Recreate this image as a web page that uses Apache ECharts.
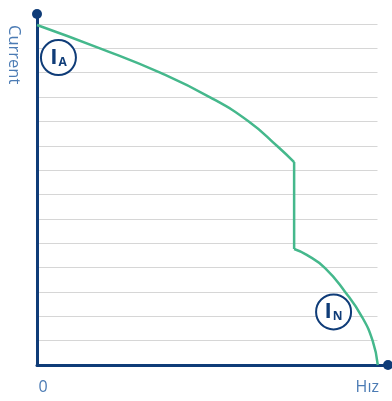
<!DOCTYPE html>
<html><head><meta charset="utf-8">
<script src="https://cdn.jsdelivr.net/npm/echarts@6/dist/echarts.min.js"></script>
<style>html,body{margin:0;padding:0;background:#fff}#c{width:392px;height:401px}</style>
</head><body><div id="c"></div>
<script>
// Upper part of the curve (speed, current)
const upperX = [0, 18.5, 36.2, 50.9, 62.35, 70.6, 75.6];
const upperY = [13.96, 13.0, 12.0, 10.99, 9.99, 8.99, 8.33];
// Vertical drop
const dropX = [75.6, 75.6];
const dropY = [8.33, 4.76];
// Lower part of the curve
const lowerX = [75.6, 79.3, 84.7, 90.6, 95.5, 98.7, 100.2];
const lowerY = [4.76, 4.52, 3.98, 3.0, 1.99, 0.99, 0];
// Circle annotations
const annoSub = ['A', 'N'];
const annoX = [6.3, 87.2];
const annoY = [12.62, 2.18];
// Axis text
const xTickValues = [1.8, 97.1];
const xTickLabels = ['0', 'Hız'];
const yName = 'Current';

const navy = '#0f3c78';
const green = '#45b88c';
const txt = '#4b7bb4';

function pairs(xs, ys) { return xs.map((x, i) => [x, ys[i]]); }

const chart = echarts.init(document.getElementById('c'), null, {renderer: 'canvas'});
chart.setOption({
  animation: false,
  grid: [
    {left: 37, right: 14.5, top: 24, bottom: 36},
    {left: 37, right: 4, top: 14, bottom: 36}
  ],
  xAxis: [
    {gridIndex: 0, type: 'value', min: 0, max: 100, show: false},
    {gridIndex: 1, type: 'value', min: 0, max: 103.2,
     axisLine: {show: true, lineStyle: {color: navy, width: 3}, symbol: ['none', 'circle'], symbolSize: [10, 10]},
     axisTick: {show: false}, splitLine: {show: false},
     axisLabel: {show: true, customValues: xTickValues, margin: 14,
       formatter: function (v) { const i = xTickValues.indexOf(v); return i >= 0 ? xTickLabels[i] : ''; },
       color: txt, fontSize: 16, fontFamily: 'Open Sans'}
    }
  ],
  yAxis: [
    {gridIndex: 0, type: 'value', min: 0, max: 14, interval: 1,
     axisLine: {show: false}, axisTick: {show: false}, axisLabel: {show: false},
     splitLine: {show: true, lineStyle: {color: '#d6d6d6', width: 1}}},
    {gridIndex: 1, type: 'value', min: 0, max: 14.41,
     axisLine: {show: true, onZero: false, lineStyle: {color: navy, width: 3}, symbol: ['none', 'circle'], symbolSize: [10, 10]},
     axisTick: {show: false}, axisLabel: {show: false}, splitLine: {show: false}}
  ],
  graphic: [{
    type: 'text', rotation: -Math.PI / 2,
    x: 14, y: 25,
    style: {text: yName, fill: txt, font: '16.5px "Open Sans"', textAlign: 'left', textVerticalAlign: 'middle'}
  }],
  series: [
    {type: 'line', xAxisIndex: 1, yAxisIndex: 1, data: pairs(upperX, upperY), smooth: 0.5,
     showSymbol: false, lineStyle: {color: green, width: 2.5}, z: 3},
    {type: 'line', xAxisIndex: 1, yAxisIndex: 1, data: pairs(dropX, dropY),
     showSymbol: false, lineStyle: {color: green, width: 2.5}, z: 3},
    {type: 'line', xAxisIndex: 1, yAxisIndex: 1, data: pairs(lowerX, lowerY), smooth: 0.5,
     showSymbol: false, lineStyle: {color: green, width: 2.5}, z: 3},
    {type: 'scatter', xAxisIndex: 1, yAxisIndex: 1, z: 4,
     data: annoX.map((x, i) => ({value: [x, annoY[i]], sub: annoSub[i]})),
     symbol: 'circle', symbolSize: 35,
     itemStyle: {color: '#fff', borderColor: navy, borderWidth: 2, opacity: 1},
     label: {show: true, position: 'inside',
       formatter: function (p) { return '{i|I}{s|' + p.data.sub + '}'; },
       rich: {
         i: {fontSize: 22, lineHeight: 22, fontWeight: 'bold', color: navy, fontFamily: 'Open Sans', verticalAlign: 'top', padding: [0, 1, 0, 0]},
         s: {fontSize: 12, lineHeight: 12, fontWeight: 'bold', color: navy, fontFamily: 'Open Sans', verticalAlign: 'bottom', padding: [14, 0, 0, 0]}
       }}
    }
  ]
});
</script>
</body></html>
